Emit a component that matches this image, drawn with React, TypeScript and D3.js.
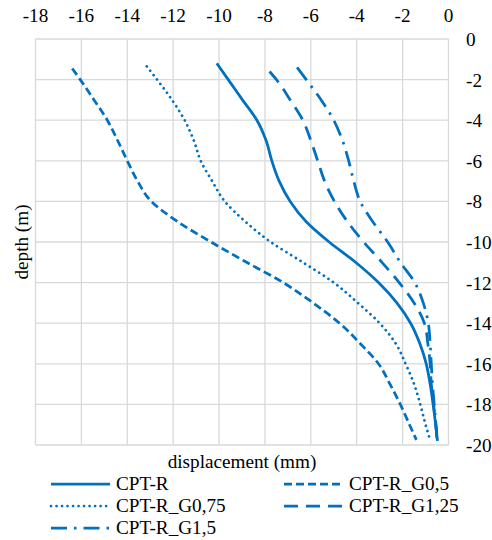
import React, { useEffect, useRef } from "react";
import * as d3 from "d3";

const xTicks = [-18, -16, -14, -12, -10, -8, -6, -4, -2, 0];
const yTicks = [0, -2, -4, -6, -8, -10, -12, -14, -16, -18, -20];

const depthR = [-1.2, -2, -3, -4, -5, -6, -7, -8, -9, -10, -11, -12, -13, -14, -15, -16, -17, -18, -19, -19.8];
const dispR = [-10.1, -9.6, -8.98, -8.35, -7.95, -7.7, -7.38, -6.9, -6.2, -5.2, -4.05, -3.05, -2.25, -1.65, -1.25, -0.97, -0.8, -0.67, -0.56, -0.48];

const depthG05 = [-1.45, -2, -3, -4, -5, -6, -7, -8, -9, -10, -11, -12, -13, -14, -15, -16, -17, -18, -19, -19.75];
const dispG05 = [-16.4, -16.05, -15.45, -14.87, -14.42, -14.0, -13.55, -12.95, -11.8, -10.35, -8.8, -7.2, -5.9, -4.75, -3.85, -3.05, -2.55, -2.1, -1.7, -1.4];

const depthG075 = [-1.35, -2, -3, -4, -5, -6, -7, -8, -9, -10, -11, -12, -13, -14, -15, -16, -17, -18, -19, -19.75];
const dispG075 = [-13.15, -12.7, -12.05, -11.5, -11.1, -10.8, -10.3, -9.75, -8.85, -7.75, -6.35, -5.0, -3.95, -3.0, -2.3, -1.87, -1.5, -1.23, -1.0, -0.8];

const depthG125 = [-1.6, -2, -3, -4, -5, -6, -7, -8, -9, -10, -11, -12, -13, -14, -15, -16, -17, -18, -19, -19.8];
const dispG125 = [-7.8, -7.5, -6.9, -6.35, -6.0, -5.7, -5.4, -4.97, -4.4, -3.7, -2.9, -2.15, -1.5, -1.05, -0.9, -0.8, -0.75, -0.65, -0.55, -0.48];

const depthG15 = [-1.4, -2, -3, -4, -5, -6, -7, -8, -9, -10, -11, -12, -13, -14, -15, -16, -17, -18, -19, -19.8];
const dispG15 = [-6.6, -6.2, -5.55, -5.0, -4.62, -4.35, -4.13, -3.85, -3.3, -2.65, -2.1, -1.47, -1.1, -0.88, -0.8, -0.75, -0.7, -0.62, -0.55, -0.5];

const seriesNames = ["CPT-R", "CPT-R_G0,5", "CPT-R_G0,75", "CPT-R_G1,25", "CPT-R_G1,5"];

const COLOR = "#0070C0";
const SERIF = '"Liberation Serif", "Times New Roman", Tinos, "Nimbus Roman"';

function Txt(props: { x: number; y: number; anchor?: string; rotate?: number; children: React.ReactNode }) {
  const { x, y, anchor, rotate, children } = props;
  return (
    <g transform={`translate(${x},${y}) rotate(${rotate || 0}) scale(0.96,0.92)`}>
      <text
        className="lbl"
        x={0}
        y={0}
        textAnchor={anchor || "start"}
        fontSize={20}
        fill="#000"
        style={{ fontFamily: SERIF }}
      >
        {children}
      </text>
    </g>
  );
}

export default function App() {
  const ref = useRef<SVGSVGElement>(null);
  const W = 492;
  const H = 540;
  const x = d3.scaleLinear().domain([-18, 0]).range([35.5, 448.5]);
  const y = d3.scaleLinear().domain([0, -20]).range([39, 445]);

  useEffect(() => {
    if (!ref.current) return;
    d3.select(ref.current)
      .selectAll<SVGTextElement, unknown>("text")
      .each(function () {
        this.style.setProperty("font-family", SERIF, "important");
      });
  }, []);

  const series = [
    { name: seriesNames[0], depth: depthR, disp: dispR, dash: "none", cap: "butt" },
    { name: seriesNames[1], depth: depthG05, disp: dispG05, dash: "8,4", cap: "butt" },
    { name: seriesNames[2], depth: depthG075, disp: dispG075, dash: "0.01,5.5", cap: "round" },
    { name: seriesNames[3], depth: depthG125, disp: dispG125, dash: "14,8", cap: "butt" },
    { name: seriesNames[4], depth: depthG15, disp: dispG15, dash: "16,7,2.5,7", cap: "butt" },
  ];

  const line = d3
    .line<[number, number]>()
    .x((d) => x(d[0]))
    .y((d) => y(d[1]))
    .curve(d3.curveMonotoneY);

  const legendPos = [
    { lx: 51, ty: 484 },
    { lx: 284, ty: 484 },
    { lx: 51, ty: 506 },
    { lx: 284, ty: 506 },
    { lx: 51, ty: 528 },
  ];

  return (
    <svg
      ref={ref}
      id="chart"
      width={W}
      height={H}
      fontFamily={SERIF}
      style={{ position: "absolute", left: 0, top: 0, fontFamily: SERIF }}
    >
      <style>{`#chart text.lbl { font-family: ${SERIF} !important; }`}</style>
      <rect x={0} y={0} width={W} height={H} fill="#fff" />
      {xTicks.map((t) => (
        <line key={"gx" + t} x1={x(t)} x2={x(t)} y1={y(0)} y2={y(-20)} stroke="#d9d9d9" strokeWidth={1.3} />
      ))}
      {yTicks.map((t) => (
        <line key={"gy" + t} x1={x(-18)} x2={x(0)} y1={y(t)} y2={y(t)} stroke="#d9d9d9" strokeWidth={1.3} />
      ))}
      {xTicks.map((t) => (
        <Txt key={"tx" + t} x={x(t)} y={21.5} anchor="middle">
          {t}
        </Txt>
      ))}
      {yTicks.map((t) => (
        <Txt key={"ty" + t} x={466} y={y(t) + 7}>
          {t}
        </Txt>
      ))}
      {series.map((s) => (
        <path
          key={s.name}
          d={line(s.disp.map((v, i) => [v, s.depth[i]] as [number, number])) || ""}
          fill="none"
          stroke={COLOR}
          strokeWidth={2.75}
          strokeDasharray={s.dash}
          strokeLinecap={s.cap as any}
        />
      ))}
      <Txt x={242} y={468} anchor="middle">
        displacement (mm)
      </Txt>
      <Txt x={28} y={(y(0) + y(-20)) / 2} anchor="middle" rotate={-90}>
        depth (m)
      </Txt>
      {series.map((s, i) => (
        <g key={"lg" + s.name}>
          <line
            x1={legendPos[i].lx}
            x2={legendPos[i].lx + 59}
            y1={legendPos[i].ty}
            y2={legendPos[i].ty}
            stroke={COLOR}
            strokeWidth={2.75}
            strokeDasharray={s.dash}
            strokeLinecap={s.cap as any}
          />
          <Txt x={legendPos[i].lx + 65} y={legendPos[i].ty + 6}>
            {s.name}
          </Txt>
        </g>
      ))}
    </svg>
  );
}
